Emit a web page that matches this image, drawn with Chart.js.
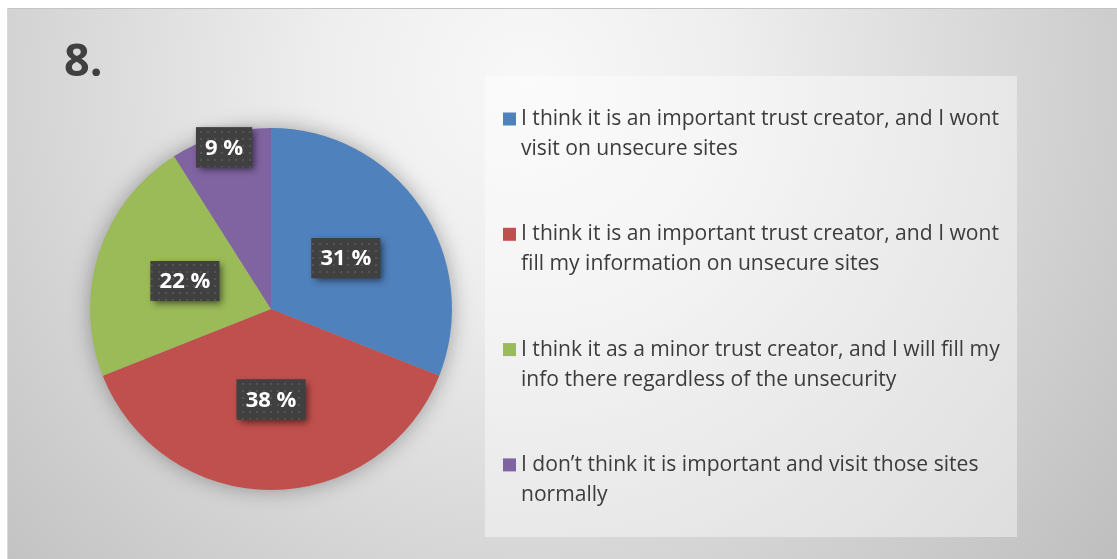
<!DOCTYPE html>
<html>
<head>
<meta charset="utf-8">
<script src="https://cdn.jsdelivr.net/npm/chart.js@4/dist/chart.umd.min.js"></script>
<style>
  html, body { margin: 0; padding: 0; background: #fff; }
  #wrap {
    position: absolute; left: 7px; top: 8px; width: 1110px; height: 551px;
    box-sizing: border-box; border-top: 1px solid #c4c4c4; border-left: 1px solid #dadada;
  }
</style>
</head>
<body>
<div id="wrap"><canvas id="myChart"></canvas></div>
<script>
const titulo = "8.";
const respuestas = [
  ["I think it is an important trust creator, and I wont", "visit on unsecure sites"],
  ["I think it is an important trust creator, and I wont", "fill my information on unsecure sites"],
  ["I think it as a minor trust creator, and I will fill my", "info there regardless of the unsecurity"],
  ["I don\u2019t think it is important and visit those sites", "normally"],
];
const porcentajes = [31, 38, 22, 9];
const colores = ["#4f81bd", "#c0504d", "#9bbb59", "#8064a2"];

const textColor = "#3c3c3c";
const fontFamily = "'Open Sans', sans-serif";

// fondo gris con degradado radial
const fondo = {
  id: "fondo",
  beforeDraw(chart) {
    const { ctx, width, height } = chart;
    const g = ctx.createRadialGradient(520, 70, 0, 520, 70, 820);
    g.addColorStop(0, "#f8f8f8");
    g.addColorStop(0.25, "#eeeeee");
    g.addColorStop(1, "#b9b9b9");
    ctx.save();
    ctx.fillStyle = g;
    ctx.fillRect(0, 0, width, height);

    ctx.fillStyle = "#404040";
    ctx.font = `bold 45px ${fontFamily}`;
    ctx.textBaseline = "alphabetic";
    ctx.fillText(titulo, 56, 67);
    ctx.restore();
  },
  // sombra suave alrededor del pie
  beforeDatasetsDraw(chart) {
    const arc = chart.getDatasetMeta(0).data[0];
    if (!arc) return;
    const { x, y, outerRadius } = arc.getProps(["x", "y", "outerRadius"]);
    const { ctx } = chart;
    ctx.save();
    ctx.shadowColor = "rgba(0,0,0,0.35)";
    ctx.shadowBlur = 22;
    ctx.fillStyle = "#999";
    ctx.beginPath();
    ctx.arc(x, y, outerRadius - 1, 0, Math.PI * 2);
    ctx.fill();
    ctx.restore();
  },
};

// cajas oscuras con el porcentaje
const makePattern = (ctx) => {
  const c = document.createElement("canvas");
  c.width = 7;
  c.height = 7;
  const p = c.getContext("2d");
  p.fillStyle = "#404040";
  p.fillRect(0, 0, 7, 7);
  p.fillStyle = "#545454";
  p.fillRect(3, 3, 2, 2);
  return ctx.createPattern(c, "repeat");
};

const etiquetas = {
  id: "etiquetas",
  afterDatasetsDraw(chart) {
    const { ctx } = chart;
    const meta = chart.getDatasetMeta(0);
    const pattern = makePattern(ctx);
    ctx.save();
    ctx.font = `bold 22px ${fontFamily}`;
    meta.data.forEach((arc, i) => {
      const { x, y, startAngle, endAngle, outerRadius } = arc.getProps(["x", "y", "startAngle", "endAngle", "outerRadius"]);
      const mid = (startAngle + endAngle) / 2;
      const r = porcentajes[i] < 15 ? outerRadius * 0.93 : outerRadius * 0.5;
      const cx = x + Math.cos(mid) * r;
      const cy = y + Math.sin(mid) * r;
      const text = `${porcentajes[i]} %`;
      const w = ctx.measureText(text).width + 18;
      const h = 40;
      ctx.save();
      ctx.shadowColor = "rgba(0,0,0,0.55)";
      ctx.shadowBlur = 7;
      ctx.shadowOffsetX = 3;
      ctx.shadowOffsetY = 3;
      ctx.fillStyle = "#404040";
      ctx.fillRect(cx - w / 2, cy - h / 2, w, h);
      ctx.restore();
      ctx.fillStyle = pattern;
      ctx.fillRect(cx - w / 2, cy - h / 2, w, h);
      ctx.fillStyle = "#ffffff";
      ctx.textAlign = "center";
      ctx.textBaseline = "middle";
      ctx.fillText(text, cx, cy + 1);
    });
    ctx.restore();
  },
};

// leyenda a la derecha, con texto en dos líneas
const leyenda = {
  id: "leyenda",
  afterDraw(chart) {
    const { ctx } = chart;
    const box = { x: 477, y: 67, w: 532, h: 461 };
    ctx.save();
    ctx.fillStyle = "rgba(255,255,255,0.42)";
    ctx.fillRect(box.x, box.y, box.w, box.h);

    // tamaño de letra para que la primera línea ocupe ~478px
    ctx.font = `20px ${fontFamily}`;
    const size = 20 * 478 / ctx.measureText(respuestas[0][0]).width;
    ctx.font = `${size}px ${fontFamily}`;
    ctx.textBaseline = "middle";
    ctx.textAlign = "left";

    respuestas.forEach((lineas, i) => {
      const y = 110 + i * 115.3;
      ctx.fillStyle = colores[i];
      ctx.fillRect(495, y - 6.5, 13, 13);
      ctx.fillStyle = textColor;
      lineas.forEach((linea, j) => {
        ctx.fillText(linea, 513, y + j * 30);
      });
    });
    ctx.restore();
  },
};

const config = {
  type: "pie",
  data: {
    labels: respuestas,
    datasets: [
      {
        data: porcentajes,
        backgroundColor: colores,
        borderWidth: 0,
      },
    ],
  },
  options: {
    responsive: true,
    maintainAspectRatio: false,
    animation: false,
    events: [],
    layout: { padding: { left: 82, right: 665, top: 119, bottom: 69 } },
    plugins: {
      legend: { display: false },
      tooltip: { enabled: false },
      title: { display: false },
    },
  },
  plugins: [fondo, etiquetas, leyenda],
};

const canvas = document.getElementById("myChart").getContext("2d");
const myChart = new Chart(canvas, config);
</script>
</body>
</html>
